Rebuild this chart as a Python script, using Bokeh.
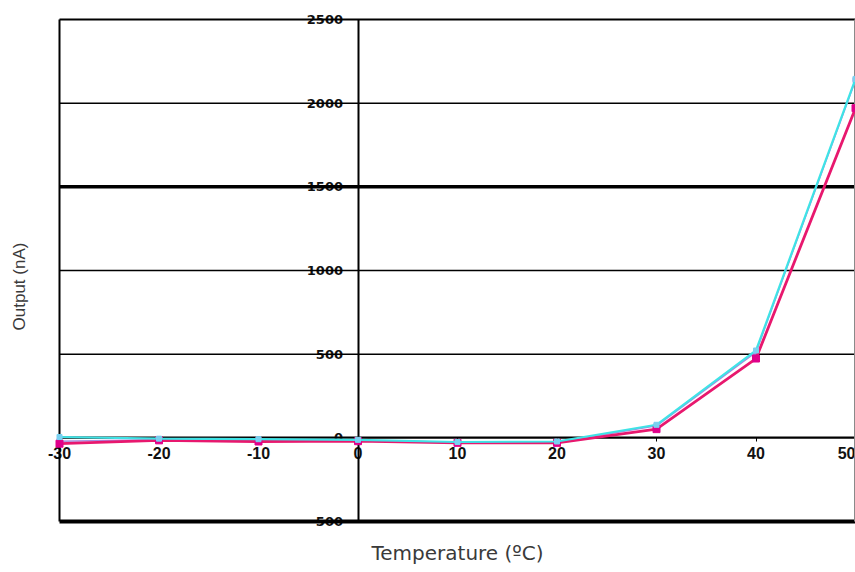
import math
from bokeh.plotting import figure
from bokeh.models import FixedTicker, Label
from bokeh.embed import file_html
from bokeh.resources import INLINE

# ---- data ----
temps = [-30, -20, -10, 0, 10, 20, 30, 40, 50]
output_violet = [-20, -12, -15, -20, -28, -28, 72, 512, 2138]
output_pink = [-35, -15, -22, -20, -30, -30, 52, 474, 1970]
output_cyan = [5, -5, -8, -12, -25, -22, 78, 522, 2145]

x_ticks = [-30, -20, -10, 0, 10, 20, 30, 40, 50]
y_ticks = [-500, 0, 500, 1000, 1500, 2000, 2500]
x_title = "Temperature (ºC)"
y_title = "Output (nA)"

# ---- styles ----
W, H = 855, 572
PAD_L, PAD_R, PAD_T, PAD_B = 59, 0, 19, 51      # pixels around the chart box
rule_widths = [4, 1.5, 1.5, 1.5, 3.5, 1.5, 2]    # one per y tick
TICK_FONT_Y = "DejaVu Sans"
TICK_FONT_X = "Liberation Sans"
TITLE_FONT = "Liberation Sans"

x0, x1 = x_ticks[0], x_ticks[-1]
y0, y1 = y_ticks[0], y_ticks[-1]
kx = (x1 - x0) / (W - PAD_L - PAD_R)
ky = (y1 - y0) / (H - PAD_T - PAD_B)

# the frame covers the whole canvas; the chart box sits inside it
p = figure(width=W, height=H,
           x_range=(x0 - PAD_L * kx, x1 + PAD_R * kx),
           y_range=(y0 - PAD_B * ky, y1 + PAD_T * ky),
           output_backend="svg", toolbar_location=None,
           min_border_left=0, min_border_right=0, min_border_top=0, min_border_bottom=0)
p.outline_line_color = None
p.background_fill_color = "white"
p.border_fill_color = "white"
p.xgrid.visible = False
p.ygrid.visible = False

# rules (horizontal gridlines and the box edges), drawn over the tick labels
p.segment(x0=[x0] * len(y_ticks), x1=[x1] * len(y_ticks), y0=y_ticks, y1=y_ticks,
          line_color="black", line_width=rule_widths, level="overlay")
p.segment(x0=[x0], x1=[x0], y0=[y0], y1=[y1], line_color="black", line_width=2, level="overlay")
p.segment(x0=[x1], x1=[x1], y0=[y0], y1=[y1], line_color="#8a8a8a", line_width=3, level="overlay")

# axes crossing at the origin
p.xaxis.fixed_location = 0
p.xaxis.bounds = (x0, x1)
p.xaxis.ticker = FixedTicker(ticks=x_ticks, minor_ticks=[])
p.xaxis.major_label_overrides = {t: str(t) for t in x_ticks}
p.xaxis.axis_line_color = "black"
p.xaxis.axis_line_width = 2
p.xaxis.major_tick_out = 4
p.xaxis.major_tick_in = 0
p.xaxis.minor_tick_out = 0
p.xaxis.minor_tick_in = 0
p.xaxis.major_tick_line_color = "black"
p.xaxis.major_label_standoff = 5
p.xaxis.major_label_text_font = TICK_FONT_X
p.xaxis.major_label_text_font_style = "bold"
p.xaxis.major_label_text_font_size = "16px"
p.xaxis.major_label_text_color = "#111111"

p.yaxis.fixed_location = 0
p.yaxis.bounds = (y0, y1)
p.yaxis.ticker = FixedTicker(ticks=y_ticks, minor_ticks=[])
p.yaxis.major_label_overrides = {t: str(t) for t in y_ticks}
p.yaxis.axis_line_color = "black"
p.yaxis.axis_line_width = 2
p.yaxis.major_tick_out = 0
p.yaxis.major_tick_in = 0
p.yaxis.minor_tick_out = 0
p.yaxis.minor_tick_in = 0
p.yaxis.major_label_standoff = 15
p.yaxis.major_label_text_font = TICK_FONT_Y
p.yaxis.major_label_text_font_style = "bold"
p.yaxis.major_label_text_font_size = "13px"
p.yaxis.major_label_text_color = "#111111"

# titles
p.add_layout(Label(x=457, y=552, x_units="canvas", y_units="canvas", text=x_title,
                   text_align="center", text_baseline="middle",
                   text_font="DejaVu Sans", text_font_size="20px", text_color="#3a3a3a"))
p.add_layout(Label(x=19, y=286, x_units="canvas", y_units="canvas", text=y_title,
                   angle=math.pi / 2, text_align="center", text_baseline="middle",
                   text_font=TITLE_FONT, text_font_size="17px", text_color="#3a3a3a"))

# series
p.line(temps, output_violet, line_color="#a58ae0", line_width=1.5, level="overlay")
p.scatter(temps, output_violet, marker="square", size=5, color="#a58ae0", level="overlay")
p.line(temps, output_pink, line_color="#e8186e", line_width=2.8, level="overlay")
p.scatter(temps, output_pink, marker="square", size=7, color="#e0008a", level="overlay")
p.line(temps, output_cyan, line_color="#3fe3e6", line_width=2.2, level="overlay")
p.scatter(temps, output_cyan, marker="square", size=5, color="#7ad0f0", level="overlay")

open("out.html", "w").write(file_html(p, INLINE))
